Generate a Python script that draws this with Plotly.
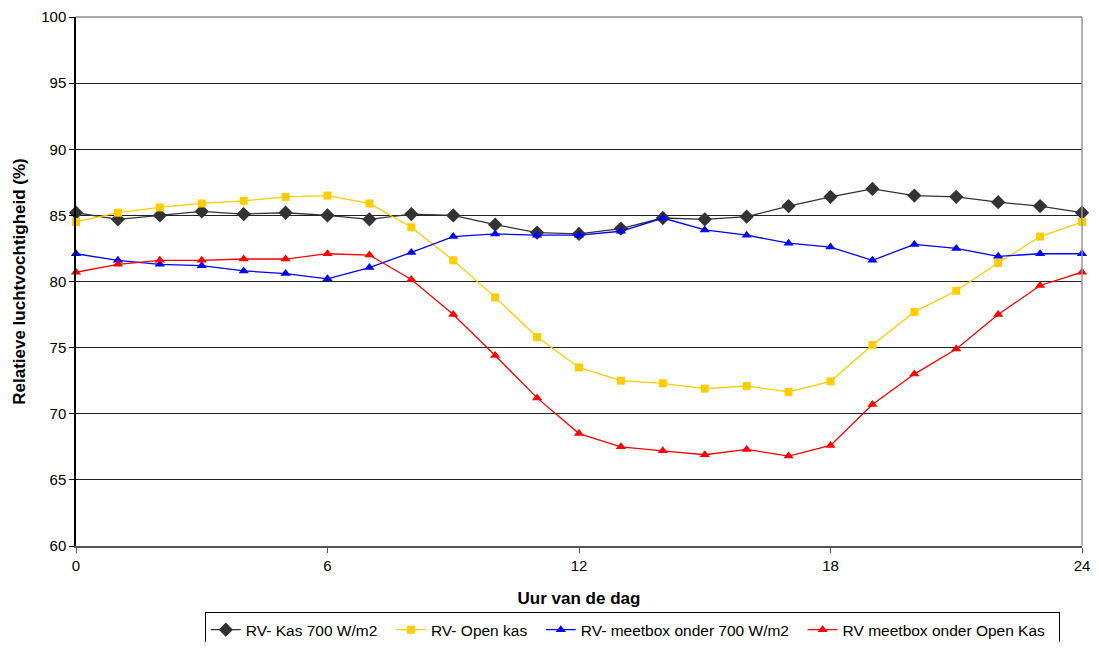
import plotly.graph_objects as go

hours = list(range(25))

rv_kas_700 = [85.2, 84.7, 85.0, 85.3, 85.1, 85.2, 85.0, 84.7, 85.1, 85.0, 84.3, 83.7, 83.6, 84.0, 84.8, 84.7, 84.9, 85.7, 86.4, 87.0, 86.5, 86.4, 86.0, 85.7, 85.2]
rv_open_kas = [84.5, 85.2, 85.6, 85.9, 86.1, 86.4, 86.5, 85.9, 84.1, 81.6, 78.8, 75.8, 73.5, 72.5, 72.3, 71.9, 72.1, 71.65, 72.45, 75.2, 77.7, 79.3, 81.4, 83.4, 84.5]
rv_meetbox_700 = [82.1, 81.6, 81.3, 81.2, 80.8, 80.6, 80.2, 81.05, 82.2, 83.4, 83.6, 83.5, 83.5, 83.8, 84.8, 83.9, 83.5, 82.9, 82.6, 81.6, 82.8, 82.5, 81.9, 82.1, 82.1]
rv_meetbox_open = [80.7, 81.3, 81.6, 81.6, 81.7, 81.7, 82.1, 82.0, 80.15, 77.5, 74.4, 71.2, 68.5, 67.5, 67.2, 66.9, 67.3, 66.8, 67.6, 70.7, 73.0, 74.9, 77.5, 79.7, 80.7]

names = ["RV- Kas 700 W/m2", "RV- Open kas", "RV- meetbox onder 700 W/m2", "RV meetbox onder Open Kas"]
colors = ["#333333", "#FFCC00", "#0000FF", "#FF0000"]
symbols = ["diamond", "square", "triangle-up", "triangle-up"]
sizes = [11, 8, 9, 9]
x_ticks = [0, 6, 12, 18, 24]
y_ticks = [60, 65, 70, 75, 80, 85, 90, 95, 100]

fig = go.Figure()
for ys, n, c, s, sz in zip([rv_kas_700, rv_open_kas, rv_meetbox_700, rv_meetbox_open], names, colors, symbols, sizes):
    fig.add_trace(go.Scatter(
        x=hours, y=ys, name=n + "&nbsp;&nbsp;", mode="lines+markers",
        line=dict(color=c, width=1.3),
        marker=dict(symbol=s, size=sz, color=c),
        cliponaxis=False,
    ))

font = "Liberation Sans, Arial, sans-serif"
# the page body adds an 8 px margin; size the figure so it fits the window without scrollbars
fig.update_layout(
    width=1083, height=634,
    margin=dict(l=68, r=9, t=9, b=96, autoexpand=False),
    paper_bgcolor="white", plot_bgcolor="white",
    font=dict(family=font, size=15, color="black"),
    showlegend=True,
    legend=dict(
        orientation="h", x=0.553, xanchor="center", y=-0.125, yanchor="top",
        bordercolor="black", borderwidth=1, font=dict(size=15.5),
        itemwidth=30, tracegroupgap=0,
    ),
    xaxis=dict(
        range=[0, 24], tickvals=x_ticks, ticktext=[str(t) for t in x_ticks],
        showgrid=False, zeroline=False, automargin=False,
        showline=True, linecolor="#555555", linewidth=2,
        ticks="outside", ticklen=5, tickcolor="#555555",
        tickfont=dict(size=15), ticklabeloverflow="allow",
        title=dict(text="<b>Uur van de dag</b>", font=dict(size=17), standoff=19),
    ),
    yaxis=dict(
        range=[60, 100], tickvals=y_ticks,
        showgrid=True, gridcolor="#222222", gridwidth=1, zeroline=False, automargin=False,
        showline=True, linecolor="black", linewidth=1.5,
        ticks="outside", ticklen=5, tickcolor="black",
        tickfont=dict(size=15), ticklabeloverflow="allow",
        title=dict(text="<b>Relatieve luchtvochtigheid (%)</b>", font=dict(size=17), standoff=11),
    ),
    shapes=[
        dict(type="line", xref="paper", yref="paper", x0=1, x1=1, y0=0, y1=1,
             line=dict(color="#999999", width=1.5)),
        dict(type="line", xref="paper", yref="paper", x0=0, x1=1, y0=1, y1=1,
             line=dict(color="#555555", width=1)),
    ],
)

fig.write_html("out.html")
